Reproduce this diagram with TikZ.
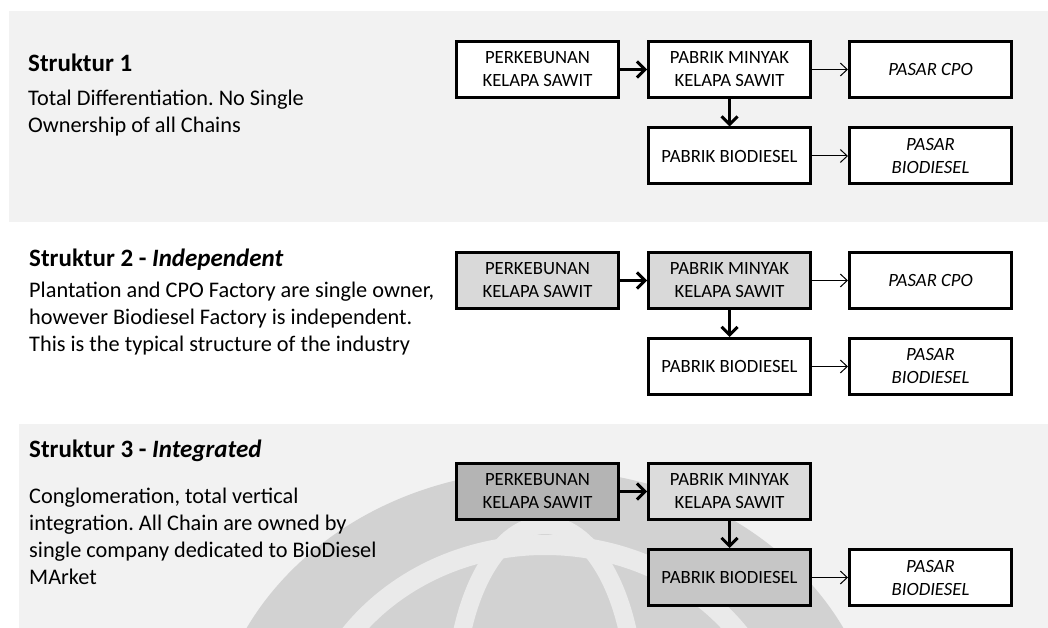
\documentclass[tikz,border=0pt]{standalone}
\usepackage{fontspec}
\setmainfont{Carlito}
\frenchspacing
\usetikzlibrary{arrows.meta}
\definecolor{panel}{HTML}{F2F2F2}
\definecolor{own}{HTML}{D9D9D9}
\definecolor{ownA}{HTML}{B4B4B4}
\definecolor{ownB}{HTML}{DCDCDC}
\definecolor{ownD}{HTML}{C6C6C6}
\definecolor{markdark}{HTML}{D2D2D2}
\definecolor{marklight}{HTML}{EAEAEA}
\tikzset{
  chainbox/.style={draw=black, line width=3pt, fill=white, minimum width=162pt,
    minimum height=56pt, inner sep=0pt, align=center,
    font=\fontsize{18.7}{23}\selectfont},
  market/.style={chainbox, font=\fontsize{18.7}{23}\selectfont\itshape},
  heavy/.style={line width=3pt, -{Straight Barb[length=8pt,width=16pt]}},
  light/.style={line width=1pt, -{Straight Barb[length=7pt,width=13pt]}},
  heading/.style={anchor=base west, inner sep=0pt, font=\fontsize{25}{30}\selectfont\bfseries},
  % multi-line blocks: base anchor sits on the last line
  body/.style={anchor=base west, inner sep=0pt, align=left, font=\fontsize{22.3}{27}\selectfont}
}
\begin{document}
\begin{tikzpicture}[x=1pt, y=-1pt]
\useasboundingbox (0,0) rectangle (1048,628);
\fill[white] (0,0) rectangle (1048,628);
% background bands
\fill[panel] (9,11) rectangle (1048,222);
\fill[panel] (19,424) rectangle (1048,628);

% faint emblem showing through the lowest band
\begin{scope}
  \clip (19,424) rectangle (1048,628);
  \fill[markdark] (545,760) ellipse [x radius=335, y radius=290];
  \draw[marklight, line width=20pt] (545,760) ellipse [x radius=240, y radius=215];
  \draw[marklight, line width=18pt] (545,700) ellipse [x radius=90, y radius=175];
\end{scope}

% ---- Struktur 1
\node[heading] (t1) at (28,72) {Struktur 1};
\node[body] (d1) at (28,133) {Total Differentiation. No Single\\Ownership of all Chains};
\node[chainbox] (a1) at (537.5,69.5) {PERKEBUNAN\\KELAPA SAWIT};
\node[chainbox] (b1) at (729.5,69.5) {PABRIK MINYAK\\KELAPA SAWIT};
\node[market]   (c1) at (930.5,69.5) {PASAR CPO};
\node[chainbox] (p1) at (729.5,156) {PABRIK BIODIESEL};
\node[market]   (e1) at (930.5,156) {PASAR\\BIODIESEL};
\draw[heavy] (a1) -- (b1);
\draw[light] (b1) -- (c1);
\draw[heavy] (b1) -- (p1);
\draw[light] (p1) -- (e1);

% ---- Struktur 2
\node[heading] (t2) at (29,266) {Struktur 2 - \textit{Independent}};
\node[body] (d2) at (29,351) {Plantation and CPO Factory are single owner,\\however Biodiesel Factory is independent.\\This is the typical structure of the industry};
\node[chainbox, fill=own] (a2) at (537.5,280.5) {PERKEBUNAN\\KELAPA SAWIT};
\node[chainbox, fill=own] (b2) at (729.5,280.5) {PABRIK MINYAK\\KELAPA SAWIT};
\node[market]   (c2) at (930.5,280.5) {PASAR CPO};
\node[chainbox] (p2) at (729.5,366.5) {PABRIK BIODIESEL};
\node[market]   (e2) at (930.5,366.5) {PASAR\\BIODIESEL};
\draw[heavy] (a2) -- (b2);
\draw[light] (b2) -- (c2);
\draw[heavy] (b2) -- (p2);
\draw[light] (p2) -- (e2);

% ---- Struktur 3
\node[heading] (t3) at (29,457) {Struktur 3 - \textit{Integrated}};
\node[body] (d3) at (29,584) {Conglomeration, total vertical\\integration. All Chain are owned by\\single company dedicated to BioDiesel\\MArket};
\node[chainbox, fill=ownA] (a3) at (537.5,491.5) {PERKEBUNAN\\KELAPA SAWIT};
\node[chainbox, fill=ownB] (b3) at (729.5,491.5) {PABRIK MINYAK\\KELAPA SAWIT};
\node[chainbox, fill=ownD] (p3) at (729.5,577.5) {PABRIK BIODIESEL};
\node[market]   (e3) at (930.5,577.5) {PASAR\\BIODIESEL};
\draw[heavy] (a3) -- (b3);
\draw[heavy] (b3) -- (p3);
\draw[light] (p3) -- (e3);
\end{tikzpicture}
\end{document}
